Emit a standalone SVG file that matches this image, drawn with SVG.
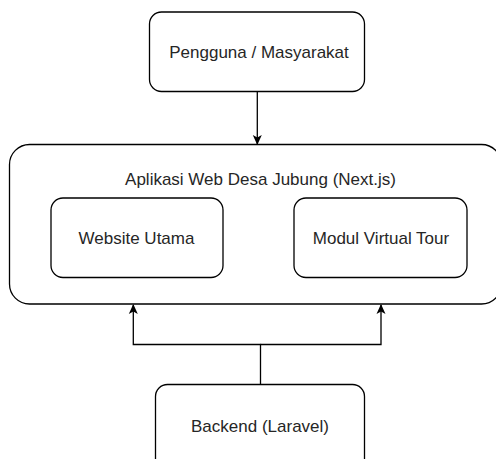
<svg xmlns="http://www.w3.org/2000/svg" width="496" height="459" viewBox="0 0 496 459">
  <style>
    .box { fill: #ffffff; stroke: #000000; stroke-width: 1.3; }
    .label { font-family: "Liberation Sans", Arial, sans-serif; font-size: 17px; fill: #262626; text-anchor: middle; }
    .edge { fill: none; stroke: #000000; stroke-width: 1.3; }
  </style>
  <defs>
    <marker id="arrow" viewBox="0 0 10 10" refX="9" refY="5" markerWidth="10" markerHeight="10" markerUnits="userSpaceOnUse" orient="auto">
      <path d="M0,0.5 L10,5 L0,9.5 L2.5,5 Z" fill="#000000"/>
    </marker>
  </defs>
  <rect width="496" height="459" fill="#ffffff"/>

  <g id="app">
    <rect class="box" x="9.5" y="144.5" width="492" height="159.5" rx="20" ry="20"/>
    <text class="label" x="260.5" y="184.5">Aplikasi Web Desa Jubung (Next.js)</text>
  </g>

  <g id="user">
    <rect class="box" x="149.5" y="12" width="215" height="79.5" rx="12" ry="12"/>
    <text class="label" x="259" y="57.5">Pengguna / Masyarakat</text>
  </g>

  <g id="website">
    <rect class="box" x="51" y="198" width="172" height="79.5" rx="12" ry="12"/>
    <text class="label" x="136.5" y="243.5">Website Utama</text>
  </g>

  <g id="virtual-tour">
    <rect class="box" x="294" y="198" width="173" height="79.5" rx="12" ry="12"/>
    <text class="label" x="381" y="243.5">Modul Virtual Tour</text>
  </g>

  <g id="backend">
    <rect class="box" x="155.5" y="384.5" width="209" height="90" rx="12" ry="12"/>
    <text class="label" x="260" y="432">Backend (Laravel)</text>
  </g>

  <g id="connectors">
    <path class="edge" d="M257.3,91.5 L257.3,144" marker-end="url(#arrow)"/>
    <path class="edge" d="M260.5,384.5 L260.5,344.5 L133.3,344.5 L133.3,305" marker-end="url(#arrow)"/>
    <path class="edge" d="M260.5,344.5 L381,344.5 L381,305" marker-end="url(#arrow)"/>
  </g>
</svg>
